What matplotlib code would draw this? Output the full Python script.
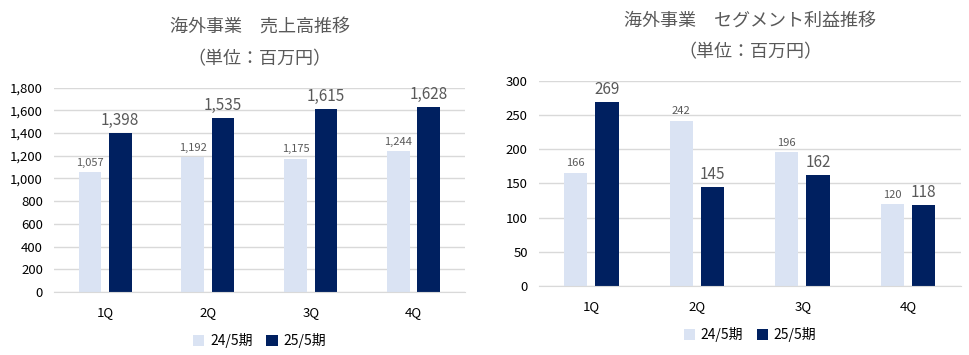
import matplotlib
matplotlib.use("Agg")
import matplotlib.pyplot as plt
import numpy as np
from matplotlib.ticker import FuncFormatter

plt.rcParams['font.family'] = ['Noto Sans CJK JP', 'DejaVu Sans']

# Datos
quarters = ["1Q", "2Q", "3Q", "4Q"]
series_names = ["24/5期", "25/5期"]
sales_24 = [1057, 1192, 1175, 1244]
sales_25 = [1398, 1535, 1615, 1628]
profit_24 = [166, 242, 196, 120]
profit_25 = [269, 145, 162, 118]

light = "#DAE3F3"
dark = "#002060"
grid_c = "#D9D9D9"
text_c = "#595959"

fig = plt.figure(figsize=(9.69, 3.55), dpi=100)


def draw(ax, v1, v2, ymax, step, title, legend_y):
    x = np.arange(len(quarters))
    w = 0.22
    b1 = ax.bar(x - 0.15, v1, w, color=light, label=series_names[0], zorder=2)
    b2 = ax.bar(x + 0.145, v2, w, color=dark, label=series_names[1], zorder=2)
    for r, v in zip(b1, v1):
        ax.annotate(f"{v:,}", (r.get_x() + r.get_width() / 2, v), xytext=(0, 3),
                    textcoords="offset points", ha="center", va="bottom",
                    fontsize=8, color=text_c)
    for r, v in zip(b2, v2):
        ax.annotate(f"{v:,}", (r.get_x() + r.get_width() / 2, v), xytext=(0, 3),
                    textcoords="offset points", ha="center", va="bottom",
                    fontsize=11, color=text_c)
    ax.set_xlim(-0.5, len(quarters) - 0.5)
    ax.set_ylim(0, ymax)
    ax.set_yticks(np.arange(0, ymax + 1, step))
    ax.yaxis.set_major_formatter(FuncFormatter(lambda v, p: f"{int(v):,}"))
    ax.set_xticks(x)
    ax.set_xticklabels(quarters)
    ax.tick_params(axis="both", length=0, labelsize=9.5, colors="black")
    ax.tick_params(axis="x", pad=10)
    ax.tick_params(axis="y", pad=8)
    ax.grid(axis="y", color=grid_c, linewidth=1, zorder=0)
    for s in ["top", "right", "left"]:
        ax.spines[s].set_visible(False)
    ax.spines["bottom"].set_color(grid_c)
    ax.set_title(title, fontsize=13, color=text_c, pad=17, linespacing=2.0)
    ax.legend(loc="upper center", bbox_to_anchor=(0.5, legend_y), ncol=2,
              frameon=False, fontsize=10, handlelength=0.8, handleheight=0.8,
              columnspacing=1.0, handletextpad=0.4)


ax1 = fig.add_axes([0.0557, 0.1775, 0.4243, 0.5755])
draw(ax1, sales_24, sales_25, 1800, 200,
     "海外事業　売上高推移\n（単位：百万円）", -0.14)

ax2 = fig.add_axes([0.5562, 0.1944, 0.4355, 0.5775])
draw(ax2, profit_24, profit_25, 300, 50,
     "海外事業　セグメント利益推移\n（単位：百万円）", -0.14)

fig.savefig("out.png", dpi=100)
